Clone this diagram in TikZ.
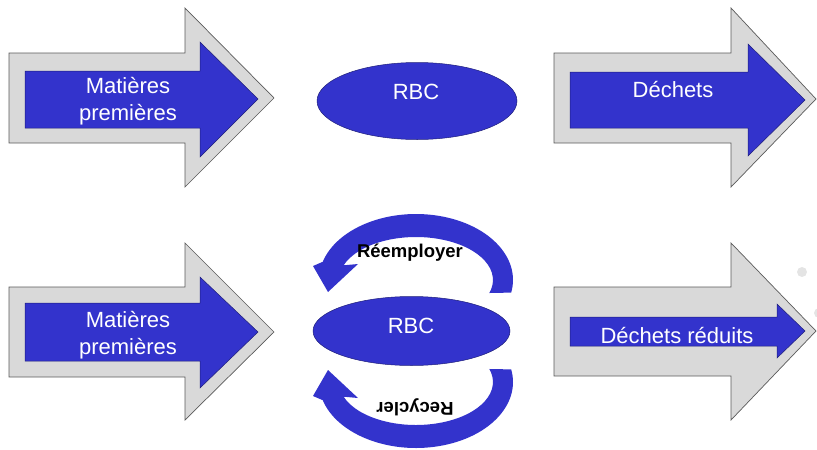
\documentclass[tikz,border=0pt]{standalone}
\usepackage{fontspec}
\setmainfont{Liberation Sans}
\usetikzlibrary{shapes.geometric}
\definecolor{rbcblue}{RGB}{51,51,204}
\definecolor{arrowgray}{RGB}{217,217,217}
\definecolor{edgegray}{RGB}{90,90,90}
\definecolor{dotgray}{RGB}{228,228,228}
\tikzset{
  grayarrow/.style={fill=arrowgray, draw=edgegray, line width=0.7pt, line join=miter},
  bluearrow/.style={fill=rbcblue, draw=rbcblue!60!black, line width=0.5pt},
  bluecirc/.style={fill=rbcblue, draw=none},
  rbcell/.style={ellipse, fill=rbcblue, draw=rbcblue!60!black, line width=0.5pt, inner sep=0pt},
  whitetxt/.style={text=white, font=\fontsize{22}{27}\selectfont, align=center, inner sep=0pt},
  blacktxt/.style={text=black, font=\fontsize{18.5}{22}\selectfont\bfseries, inner sep=0pt}
}
\begin{document}
\begin{tikzpicture}[x=1pt,y=-1pt]
\useasboundingbox (0,0) rectangle (817,450);

% top-left arrow
\draw[grayarrow] (9,53) -- (185,53) -- (185,8) -- (274,98) -- (185,187) -- (185,143) -- (9,143) -- cycle;
\draw[bluearrow] (25,71) -- (200,71) -- (200,42) -- (258,99) -- (200,157) -- (200,128) -- (25,128) -- cycle;
\node[whitetxt] (mp1) at (128,101) {Matières\\premières};

% top ellipse
\node[rbcell, minimum width=200pt, minimum height=77pt] (rbc1) at (417,101) {};
\node[whitetxt] (rbct1) at (416,92) {RBC};

% top-right arrow
\draw[grayarrow] (554,53) -- (731,53) -- (731,8) -- (816,99) -- (731,187) -- (731,143) -- (554,143) -- cycle;
\draw[bluearrow] (570,72) -- (748,72) -- (748,44) -- (805,100) -- (748,156) -- (748,128) -- (570,128) -- cycle;
\node[whitetxt] (dech) at (673,90) {Déchets};

% bottom-left arrow
\draw[grayarrow] (9,287) -- (185,287) -- (185,243) -- (274,332) -- (185,420) -- (185,377) -- (9,377) -- cycle;
\draw[bluearrow] (25,303) -- (200,303) -- (200,277) -- (258,332) -- (200,388) -- (200,361) -- (25,361) -- cycle;
\node[whitetxt] (mp2) at (128,335) {Matières\\premières};

% bottom ellipse
\node[rbcell, minimum width=197pt, minimum height=69pt] (rbc2) at (411.5,331) {};
\node[whitetxt] (rbct2) at (411,326) {RBC};

% circular arrows
\fill[bluecirc] (511.2,292.6) arc[start angle=11, end angle=-164, x radius=97, y radius=66]
  -- (313,266) -- (328,292) -- (358,264) -- (343.6,265.3)
  arc[start angle=-160, end angle=17.6, x radius=77, y radius=43] -- cycle;
\fill[bluecirc] (511.2,369.4) arc[start angle=-11, end angle=164, x radius=97, y radius=66]
  -- (313,396) -- (328,370) -- (358,398) -- (343.6,396.7)
  arc[start angle=160, end angle=-17.6, x radius=77, y radius=43] -- cycle;
\node[blacktxt] (reemp) at (410,253) {Réemployer};
\node[blacktxt, rotate=180] (recyc) at (415,407) {Recycler};

% bottom-right arrow
\draw[grayarrow] (554,287) -- (731,287) -- (731,243) -- (816,331) -- (731,420) -- (731,376) -- (554,376) -- cycle;
\draw[bluearrow] (570,317) -- (777,317) -- (777,304) -- (805,331) -- (777,358) -- (777,346) -- (570,346) -- cycle;
\node[whitetxt] (dechr) at (677,336) {Déchets réduits};

% faint dots
\fill[dotgray] (802,272) circle (5);
\fill[dotgray] (819,313) circle (5);
\end{tikzpicture}
\end{document}
